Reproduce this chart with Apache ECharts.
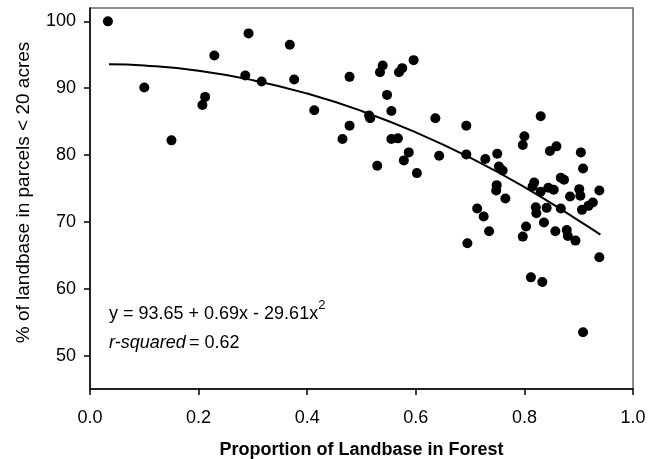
<!DOCTYPE html>
<html>
<head>
<meta charset="utf-8">
<script src="https://cdn.jsdelivr.net/npm/echarts@6/dist/echarts.min.js"></script>
<style>
  html, body { margin: 0; padding: 0; background: #fff; }
  #chart { width: 656px; height: 459px; }
</style>
</head>
<body>
<div id="chart"></div>
<script>
// scatter points: [proportion in forest, % in parcels < 20 acres]
const points = [
  [0.033, 100.0], [0.100, 90.1], [0.150, 82.2], [0.207, 87.5], [0.212, 88.7],
  [0.229, 94.9], [0.286, 91.9], [0.292, 98.2], [0.316, 91.0], [0.368, 96.5],
  [0.376, 91.3], [0.413, 86.7],
  [0.465, 82.4], [0.478, 91.7], [0.478, 84.4], [0.514, 85.9], [0.516, 85.5],
  [0.529, 78.4], [0.534, 92.4], [0.539, 93.4], [0.547, 89.0], [0.555, 86.6],
  [0.555, 82.4], [0.567, 82.5], [0.569, 92.4], [0.575, 93.0], [0.578, 79.2],
  [0.587, 80.4], [0.596, 94.2], [0.602, 77.3], [0.636, 85.5], [0.643, 79.9],
  [0.693, 84.4], [0.693, 80.1], [0.695, 66.8], [0.713, 72.0], [0.725, 70.8],
  [0.728, 79.4], [0.735, 68.6], [0.748, 74.7], [0.749, 75.5], [0.750, 80.2],
  [0.753, 78.3], [0.760, 77.7], [0.765, 73.5],
  [0.797, 81.5], [0.800, 82.8], [0.797, 67.8], [0.803, 69.3], [0.812, 61.7],
  [0.815, 75.3], [0.818, 75.9], [0.821, 72.2], [0.822, 71.3], [0.830, 85.8],
  [0.830, 74.5], [0.833, 61.0], [0.836, 69.9], [0.841, 72.1], [0.844, 75.1],
  [0.847, 80.6], [0.854, 74.8], [0.857, 68.6], [0.859, 81.3], [0.867, 76.6],
  [0.867, 72.0], [0.873, 76.3], [0.878, 68.8], [0.880, 67.9], [0.884, 73.8],
  [0.894, 67.2], [0.901, 74.9], [0.903, 73.9], [0.904, 80.4], [0.906, 71.8],
  [0.908, 78.0], [0.908, 53.5], [0.918, 72.4], [0.926, 72.9], [0.938, 74.7],
  [0.938, 64.7]
]

// fitted curve
const curveX = [0.035, 0.1, 0.2, 0.3, 0.4, 0.5, 0.6, 0.7, 0.8, 0.9, 0.94]
const curveY = [93.6, 93.4, 92.6, 91.2, 89.2, 86.6, 83.4, 79.6, 75.2, 70.2, 68.1]

const yTicks = [50, 60, 70, 80, 90, 100]

const font = 'Liberation Sans, Arial, sans-serif'

const chart = echarts.init(document.getElementById('chart'))
chart.setOption({
  animation: false,
  backgroundColor: '#fff',
  textStyle: { fontFamily: font },
  grid: {
    left: 90,
    right: 23,
    top: 8,
    bottom: 70,
    outerBoundsMode: 'none',
    show: true,
    borderColor: '#666',
    borderWidth: 1.5,
  },
  xAxis: {
    type: 'value',
    min: 0,
    max: 1,
    interval: 0.2,
    name: 'Proportion of Landbase in Forest',
    nameLocation: 'middle',
    nameGap: 52,
    nameTextStyle: { color: '#000', fontSize: 18, fontWeight: 'bold', fontFamily: font },
    axisLine: { lineStyle: { color: '#000', width: 1.5 } },
    axisTick: { show: true, length: 6, lineStyle: { color: '#000', width: 1.5 } },
    axisLabel: {
      color: '#000',
      fontSize: 18,
      fontFamily: font,
      margin: 20,
      formatter: v => v.toFixed(1),
    },
    splitLine: { show: false },
  },
  yAxis: {
    type: 'value',
    min: 45,
    max: 102,
    name: '% of landbase in parcels < 20 acres',
    nameLocation: 'middle',
    nameGap: 57,
    nameTextStyle: { color: '#000', fontSize: 19, fontFamily: font, padding: [0, 0, 0, 12] },
    axisLine: { show: true, lineStyle: { color: '#000', width: 1.5 } },
    axisTick: { show: true, length: 6, customValues: yTicks, lineStyle: { color: '#000', width: 1.5 } },
    axisLabel: { color: '#000', fontSize: 18, fontFamily: font, margin: 14, customValues: yTicks },
    splitLine: { show: false },
  },
  graphic: [
    {
      type: 'text',
      left: 109,
      top: 299,
      style: {
        text: '{m|y = 93.65 + 0.69x - 29.61x}{s|2}',
        rich: {
          m: { fontSize: 18, fontFamily: font, fill: '#000', verticalAlign: 'bottom', lineHeight: 24 },
          s: { fontSize: 13, fontFamily: font, fill: '#000', verticalAlign: 'top', lineHeight: 24 },
        },
      },
    },
    {
      type: 'text',
      left: 109,
      top: 334,
      style: {
        text: '{i|r-squared} {m|= 0.62}',
        rich: {
          i: { fontSize: 18, fontFamily: font, fontStyle: 'italic', fill: '#000' },
          m: { fontSize: 18, fontFamily: font, fill: '#000' },
        },
      },
    },
  ],
  series: [
    {
      type: 'line',
      data: curveX.map((x, i) => [x, curveY[i]]),
      smooth: true,
      showSymbol: false,
      lineStyle: { color: '#000', width: 2 },
      z: 3,
    },
    {
      type: 'scatter',
      data: points,
      symbol: 'circle',
      symbolSize: 10,
      itemStyle: { color: '#000', opacity: 1 },
      z: 4,
    },
  ],
})
</script>
</body>
</html>
